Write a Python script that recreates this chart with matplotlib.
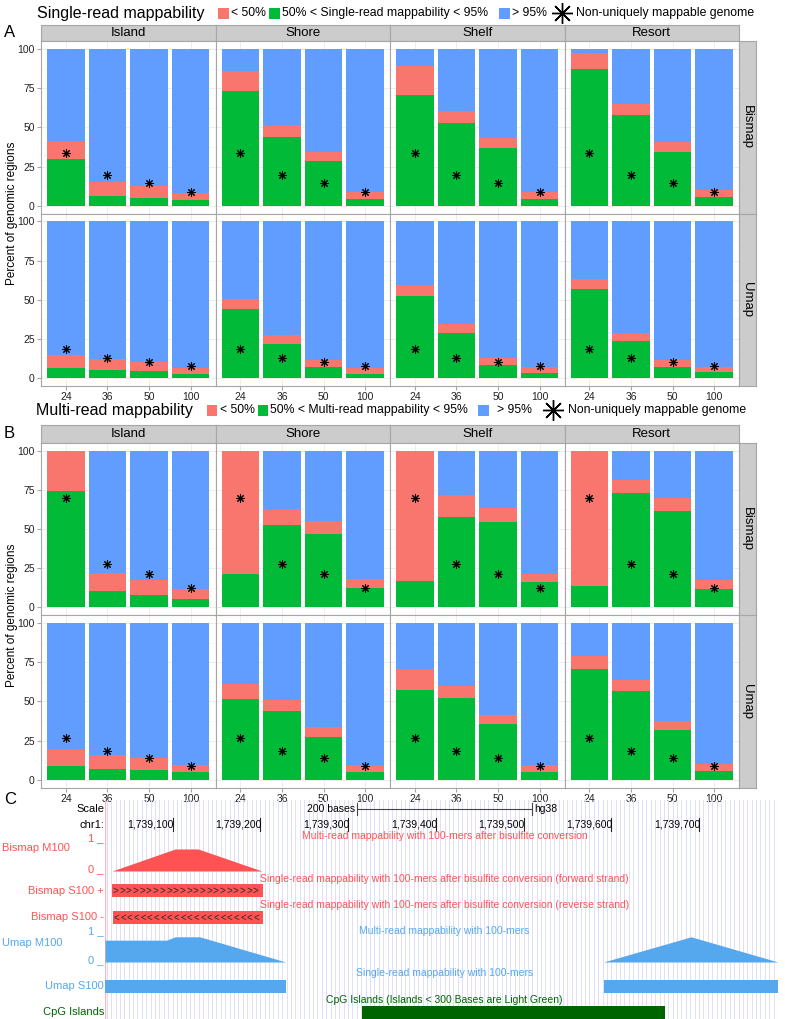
import numpy as np
import matplotlib
matplotlib.use("Agg")
import matplotlib.pyplot as plt
from matplotlib.patches import Rectangle

plt.rcParams['font.family'] = ['Liberation Sans', 'DejaVu Sans']

# ---- data -------------------------------------------------------------
kmers = ['24', '36', '50', '100']
regions = ['Island', 'Shore', 'Shelf', 'Resort']

# percent of regions with 50% < mappability < 95% (green) and < 50% (red), per region
single_bismap_mid = [[30, 6, 5, 3.5], [73, 44, 28.5, 4], [70.5, 52.5, 37, 4.5], [87, 58, 34.5, 5.5]]
single_bismap_low = [[11.5, 9, 7.5, 4.5], [13, 7.5, 6, 4.5], [18.5, 8, 6, 4.5], [10.5, 7, 6, 4.5]]
single_umap_mid = [[6.5, 5.3, 4.6, 2.8], [44, 22, 6.8, 2.8], [52.5, 29, 8, 2.9], [57, 23.5, 7, 3.5]]
single_umap_low = [[8, 6.7, 5.4, 3.7], [6.5, 5.5, 5, 3.8], [7, 5.5, 4.7, 3.9], [6, 5, 4.8, 3.5]]

multi_bismap_mid = [[74.5, 10.5, 7.5, 5], [21.5, 52.5, 46.8, 12], [16.5, 57.5, 54.6, 15.8], [13.5, 72.8, 61.5, 11.7]]
multi_bismap_low = [[25.5, 11.5, 10, 6.8], [78.5, 10.5, 8, 5.7], [83.5, 14, 8.9, 5.7], [86.5, 8.7, 8, 5.8]]
multi_umap_mid = [[9, 7.2, 6.3, 4.8], [51.5, 44, 27.5, 4.9], [57.5, 52.5, 35.5, 5.2], [70.8, 56.9, 32, 6]]
multi_umap_low = [[10.7, 8.8, 7.5, 4.8], [9.8, 7, 6, 4.6], [13, 7.5, 6, 4.6], [8.2, 6.6, 5.5, 4.5]]

# percent of non-uniquely mappable genome, per k-mer
single_bismap_nonuniq = [33.5, 19.6, 14.7, 9.0]
single_umap_nonuniq = [18.7, 12.7, 10.2, 7.4]
multi_bismap_nonuniq = [69.5, 27.7, 21.3, 12.2]
multi_umap_nonuniq = [26.5, 18.7, 14.2, 9.1]

# genome browser (chr1, hg38)
view_start, view_end = 1739023, 1739790
ruler_ticks = [1739100, 1739200, 1739300, 1739400, 1739500, 1739600, 1739700]
scale_bar = [1739310, 1739510]
bismap_m100_pos = [1739031, 1739103, 1739129, 1739202]
bismap_m100_val = [0, 0.76, 0.76, 0]
bismap_s100_plus = [1739031, 1739203]
bismap_s100_minus = [1739032, 1739203]
umap_m100_pos = [[1739023, 1739093, 1739103, 1739131, 1739229], [1739591, 1739691, 1739790]]
umap_m100_val = [[0.78, 0.78, 0.9, 0.9, 0], [0, 0.9, 0]]
umap_s100 = [[1739023, 1739229], [1739592, 1739790]]
cpg_islands = [[1739316, 1739661]]

RED, GREEN, BLUE = '#F8766D', '#00BA38', '#619CFF'
EDGE = '#A6A6A6'
BM_RED, UM_BLUE, CPG_GREEN = '#FF5353', '#55A8EE', '#006400'

W, H = 785, 1019
fig = plt.figure(figsize=(W / 100, H / 100), dpi=100)


def px_axes(x0, y0, x1, y1):
    return fig.add_axes([x0 / W, 1 - y1 / H, (x1 - x0) / W, (y1 - y0) / H])


col_edges = [41, 215.5, 390, 564.5, 739]


def draw_panel(ax, mid, low, stars, left, bottom_row):
    x = np.arange(1, 5)
    mid = np.array(mid, dtype=float)
    low = np.array(low, dtype=float)
    high = 100 - mid - low
    ax.bar(x, mid, 0.9, color=GREEN, zorder=2)
    ax.bar(x, low, 0.9, bottom=mid, color=RED, zorder=2)
    ax.bar(x, high, 0.9, bottom=mid + low, color=BLUE, zorder=2)
    ax.plot(x, stars, ls='', marker=(8, 2, 0), ms=6, mew=0.75, color='black', zorder=3)
    ax.set_xlim(0.4, 4.6)
    ax.set_ylim(-5, 105)
    ax.set_yticks([0, 25, 50, 75, 100])
    ax.set_yticks([12.5, 37.5, 62.5, 87.5], minor=True)
    ax.set_xticks(x)
    ax.set_axisbelow(True)
    ax.grid(which='major', color='#EBEBEB', lw=0.6)
    ax.grid(which='minor', axis='y', color='#F5F5F5', lw=0.4)
    for s in ax.spines.values():
        s.set_color(EDGE)
        s.set_linewidth(0.8)
    ax.tick_params(which='both', color=EDGE, length=3, labelsize=7.5, pad=1.5, labelcolor='#222222')
    ax.tick_params(which='minor', length=0)
    if left:
        ax.set_yticklabels(['0', '25', '50', '75', '100'])
    else:
        ax.tick_params(axis='y', length=0, labelleft=False)
    if bottom_row:
        ax.set_xticklabels(kmers)
    else:
        ax.tick_params(axis='x', length=0, labelbottom=False)


def strip(x0, y0, x1, y1, label, rot=0):
    s = px_axes(x0, y0, x1, y1)
    s.set_facecolor('#CCCCCC')
    s.set_xticks([])
    s.set_yticks([])
    for sp in s.spines.values():
        sp.set_color(EDGE)
        sp.set_linewidth(0.8)
    s.text(0.5, 0.5, label, rotation=rot, ha='center', va='center', fontsize=9.5, transform=s.transAxes)


def draw_block(strip_y, rows, mids, lows, stars, row_names):
    for j, reg in enumerate(regions):
        strip(col_edges[j], strip_y[0], col_edges[j + 1], strip_y[1], reg)
    for r, (top, bot) in enumerate(rows):
        for j in range(4):
            ax = px_axes(col_edges[j], top, col_edges[j + 1], bot)
            draw_panel(ax, mids[r][j], lows[r][j], stars[r], j == 0, r == len(rows) - 1)
        strip(739, top, 755.7, bot, row_names[r], rot=-90)


draw_block((25, 41.2), [(41.2, 213.6), (213.6, 385.8)],
           [single_bismap_mid, single_umap_mid], [single_bismap_low, single_umap_low],
           [single_bismap_nonuniq, single_umap_nonuniq], ['Bismap', 'Umap'])
draw_block((425, 442.8), [(442.8, 615), (615, 787.9)],
           [multi_bismap_mid, multi_umap_mid], [multi_bismap_low, multi_umap_low],
           [multi_bismap_nonuniq, multi_umap_nonuniq], ['Bismap', 'Umap'])

# ---- panel C: genome browser ------------------------------------------
bx = px_axes(105, 800, 778, 1019)
bx.set_xlim(view_start, view_end)
bx.set_ylim(1019, 800)
bx.axis('off')
for g in np.arange(view_start + 2, view_end, 5):
    bx.axvline(g, color='#DEDEFA', lw=0.7, zorder=0)
bx.axvline(view_start + 0.3, color='#FFB5B5', lw=1, zorder=0)

for t in ruler_ticks:
    bx.plot([t, t], [818, 831], color='#222222', lw=0.8)
    bx.text(t + 1.6, 824.5, f'{t:,}', ha='right', va='center', fontsize=7.5)
bx.plot(scale_bar, [809, 809], color='#444444', lw=0.8)
for g in scale_bar:
    bx.plot([g, g], [803, 815], color='#444444', lw=0.8)
bx.text(scale_bar[0] - 1.5, 809, '200 bases', ha='right', va='center', fontsize=7.5)
bx.text(scale_bar[1] + 2.5, 809, 'hg38', ha='left', va='center', fontsize=7.5)

mid_g = 1739410
bx.text(mid_g, 836, 'Multi-read mappability with 100-mers after bisulfite conversion',
        ha='center', va='center', fontsize=7.5, color=BM_RED)
bx.text(mid_g, 879, 'Single-read mappability with 100-mers after bisulfite conversion (forward strand)',
        ha='center', va='center', fontsize=7.5, color=BM_RED)
bx.text(mid_g, 905, 'Single-read mappability with 100-mers after bisulfite conversion (reverse strand)',
        ha='center', va='center', fontsize=7.5, color=BM_RED)
bx.text(mid_g, 931, 'Multi-read mappability with 100-mers',
        ha='center', va='center', fontsize=7.5, color=UM_BLUE)
bx.text(mid_g, 973.5, 'Single-read mappability with 100-mers',
        ha='center', va='center', fontsize=7.5, color=UM_BLUE)
bx.text(mid_g, 1000, 'CpG Islands (Islands < 300 Bases are Light Green)',
        ha='center', va='center', fontsize=7.5, color=CPG_GREEN)

# wiggle tracks: value 0..1 mapped to track height
bm_base, bm_h = 871, 29
bx.fill_between(bismap_m100_pos, bm_base, bm_base - np.array(bismap_m100_val) * bm_h,
                color=BM_RED, lw=0)
um_base, um_h = 962, 28
for pos, val in zip(umap_m100_pos, umap_m100_val):
    bx.fill_between(pos, um_base, um_base - np.array(val) * um_h, color=UM_BLUE, lw=0)

for (s, e), (y0, y1), chev in [(bismap_s100_plus, (884, 897), '>'), (bismap_s100_minus, (911, 924), '<')]:
    bx.add_patch(Rectangle((s, y0), e - s, y1 - y0, color=BM_RED, lw=0))
    for g in np.arange(s + 4, e - 3, 7.6):
        bx.text(g, (y0 + y1) / 2 + 0.5, chev, ha='center', va='center', fontsize=7, color='#2a2a2a')

for s, e in umap_s100:
    bx.add_patch(Rectangle((s, 980), e - s, 12.5, color=UM_BLUE, lw=0))
for s, e in cpg_islands:
    bx.add_patch(Rectangle((s, 1006), e - s, 12.5, color=CPG_GREEN, lw=0))

# ---- overlay for labels and legends -----------------------------------
ov = fig.add_axes([0, 0, 1, 1])
ov.set_xlim(0, W)
ov.set_ylim(H, 0)
ov.axis('off')

ov.text(4, 32, 'A', fontsize=12, va='center', ha='left')
ov.text(4, 433, 'B', fontsize=12, va='center', ha='left')
ov.text(4, 800, 'C', fontsize=12, va='center', ha='left')
ov.text(12.5, 213.6, 'Percent of genomic regions', rotation=90, ha='center', va='center', fontsize=8.5)
ov.text(12.5, 615, 'Percent of genomic regions', rotation=90, ha='center', va='center', fontsize=8.5)


def legend(y, title, mid_text, t_x, sq, txt, star_x, star_txt_x):
    ov.text(t_x, y, title, fontsize=11.5, va='center', ha='left')
    for x0, c in zip(sq, [RED, GREEN, BLUE]):
        ov.add_patch(Rectangle((x0, y - 5.5), 10.5, 11, color=c, lw=0))
    for x0, s in zip(txt, ['< 50%', mid_text, '> 95%']):
        ov.text(x0, y, s, fontsize=8.8, va='center', ha='left')
    ov.plot([star_x], [y], marker=(8, 2, 0), ms=15, mew=1, color='black')
    ov.text(star_txt_x, y, 'Non-uniquely mappable genome', fontsize=8.8, va='center', ha='left')


legend(13, 'Single-read mappability', '50% < Single-read mappability < 95%', 37,
       [218, 269, 499], [231, 282, 512], 562, 576)
legend(410, 'Multi-read mappability', '50% < Multi-read mappability < 95%', 36,
       [206.5, 257.5, 478], [220.5, 270, 497], 553, 568)

ov.text(104, 809, 'Scale', ha='right', va='center', fontsize=8)
ov.text(104, 824.5, 'chr1:', ha='right', va='center', fontsize=8)
ov.text(2, 848, 'Bismap M100', ha='left', va='center', fontsize=8, color=BM_RED)
ov.text(104, 838.5, '1 _', ha='right', va='center', fontsize=8, color=BM_RED)
ov.text(104, 869, '0 _', ha='right', va='center', fontsize=8, color=BM_RED)
ov.text(104, 891, 'Bismap S100 +', ha='right', va='center', fontsize=8, color=BM_RED)
ov.text(104, 917.5, 'Bismap S100 -', ha='right', va='center', fontsize=8, color=BM_RED)
ov.text(2, 943, 'Umap M100', ha='left', va='center', fontsize=8, color=UM_BLUE)
ov.text(104, 931, '1 _', ha='right', va='center', fontsize=8, color=UM_BLUE)
ov.text(104, 960.5, '0 _', ha='right', va='center', fontsize=8, color=UM_BLUE)
ov.text(104, 986, 'Umap S100', ha='right', va='center', fontsize=8, color=UM_BLUE)
ov.text(104, 1012, 'CpG Islands', ha='right', va='center', fontsize=8, color=CPG_GREEN)

fig.savefig('out.png', dpi=100)
